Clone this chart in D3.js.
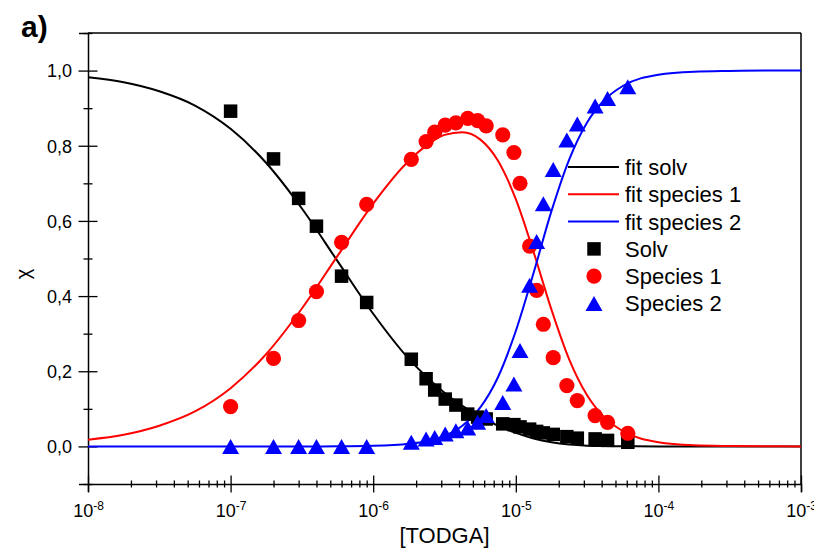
<!DOCTYPE html>
<html>
<head>
<meta charset="utf-8">
<script src="https://cdnjs.cloudflare.com/ajax/libs/d3/7.8.5/d3.min.js"></script>
<style>
    body { margin: 0; background: #fff; }
    svg { display: block; font-family: "Liberation Sans", Arial, sans-serif; }
</style>
</head>
<body>
<svg id="chart" width="814" height="548"></svg>
<script>
// measured points (concentration of TODGA)
var conc = [1e-7, 2e-7, 3e-7, 4e-7, 6e-7, 9e-7, 1.85e-6, 2.35e-6, 2.7e-6, 3.2e-6, 3.8e-6,
    4.6e-6, 5.4e-6, 6.2e-6, 8.1e-6, 9.7e-6, 1.07e-5, 1.25e-5, 1.4e-5, 1.56e-5, 1.83e-5,
    2.28e-5, 2.7e-5, 3.6e-5, 4.4e-5, 6.1e-5];
var solv = [0.892, 0.765, 0.660, 0.586, 0.453, 0.383, 0.232, 0.180, 0.150, 0.126, 0.110,
    0.086, 0.078, 0.073, 0.060, 0.058, 0.052, 0.046, 0.040, 0.036, 0.032,
    0.026, 0.022, 0.020, 0.016, 0.011];
var species1 = [0.106, 0.234, 0.335, 0.412, 0.543, 0.644, 0.764, 0.811, 0.836, 0.855, 0.861,
    0.873, 0.867, 0.853, 0.829, 0.782, 0.700, 0.533, 0.415, 0.325, 0.236,
    0.162, 0.122, 0.082, 0.064, 0.035];
var species2 = [0.0, 0.0, 0.0, 0.0, 0.0, 0.0, 0.011, 0.020, 0.024, 0.033, 0.042,
    0.049, 0.064, 0.082, 0.117, 0.166, 0.255, 0.429, 0.545, 0.646, 0.737,
    0.815, 0.858, 0.906, 0.926, 0.957];

// fit curves (x given as log10 of concentration)
var fitLog = [-8, -7.75, -7.5, -7.25, -7, -6.75, -6.5, -6.25, -6, -5.75, -5.625, -5.5, -5.375,
    -5.25, -5.125, -5, -4.875, -4.75, -4.625, -4.5, -4.375, -4.25, -4, -3.75, -3.5, -3.25, -3];
var fitSolv = [0.982, 0.969, 0.945, 0.907, 0.845, 0.754, 0.633, 0.493, 0.353, 0.233, 0.185, 0.143, 0.108,
    0.079, 0.055, 0.036, 0.021, 0.011, 0.005, 0.002, 0.001, 0.0004, 0, 0, 0, 0, 0];
var fitSpecies1 = [0.018, 0.031, 0.055, 0.093, 0.155, 0.246, 0.367, 0.507, 0.646, 0.760, 0.801, 0.829, 0.836,
    0.817, 0.760, 0.658, 0.517, 0.364, 0.231, 0.136, 0.076, 0.041, 0.011, 0.003, 0.001, 0.0002, 0.0001];
var fitSpecies2 = [0, 0, 0, 0, 0, 0, 0, 0.0003, 0.0016, 0.007, 0.014, 0.028, 0.055,
    0.103, 0.184, 0.307, 0.462, 0.626, 0.764, 0.862, 0.923, 0.959, 0.989, 0.997, 0.999, 1.0, 1.0];

var xTicks = [1e-8, 1e-7, 1e-6, 1e-5, 1e-4, 1e-3];
var yTicks = [0, 0.2, 0.4, 0.6, 0.8, 1.0];

var legendItems = [
    {label: "fit solv", color: "#000", kind: "line"},
    {label: "fit species 1", color: "#ff0000", kind: "line"},
    {label: "fit species 2", color: "#0000ff", kind: "line"},
    {label: "Solv", color: "#000", kind: "square"},
    {label: "Species 1", color: "#ff0000", kind: "circle"},
    {label: "Species 2", color: "#0000ff", kind: "triangle"}
];

var svg = d3.select("#chart");

var plotLeft = 88, plotRight = 801, plotTop = 33, plotBottom = 484;

var x = d3.scaleLog().domain([1e-8, 1e-3]).range([plotLeft, plotRight]);
var y = d3.scaleLinear().domain([-0.1, 1.1]).range([plotBottom, plotTop]);

/**
 * Marker shapes
 */
function markerPath(kind) {
    if (kind === "square") {
        return "M-6.75,-6.75h13.5v13.5h-13.5Z";
    }
    if (kind === "triangle") {
        return "M0,-7.5L8.5,7.5L-8.5,7.5Z";
    }
    return d3.symbol().type(d3.symbolCircle).size(Math.PI * 7.6 * 7.6)();
}

// frame (top and right)
svg.append("line").attr("x1", plotLeft).attr("x2", plotRight).attr("y1", plotTop).attr("y2", plotTop)
    .attr("stroke", "#000").attr("stroke-width", 1.5);
svg.append("line").attr("x1", plotRight).attr("x2", plotRight).attr("y1", plotTop).attr("y2", plotBottom)
    .attr("stroke", "#000").attr("stroke-width", 1.5);

// x axis: majors with labels, minors crossing the line
var minorX = [];
for (var e = -8; e < -3; e++) {
    for (var m = 2; m <= 9; m++) minorX.push(m * Math.pow(10, e));
}

var xAxisG = svg.append("g").attr("transform", "translate(0," + plotBottom + ")");
xAxisG.append("g")
    .call(d3.axisBottom(x).tickValues(minorX).tickSize(4).tickFormat(""))
    .call(function (g) {
        g.select(".domain").remove();
        g.selectAll(".tick line").attr("y1", -3.5).attr("y2", 3.5).attr("stroke-width", 1.3);
    });
xAxisG.append("g")
    .call(d3.axisBottom(x).tickValues(xTicks).tickSize(8).tickFormat(""))
    .call(function (g) {
        g.select(".domain").attr("stroke-width", 1.5);
        g.selectAll(".tick line").attr("y1", -8.5).attr("y2", 8.5).attr("stroke-width", 1.3);
        g.selectAll(".tick").append("text")
            .attr("y", 33)
            .attr("fill", "#000")
            .attr("text-anchor", "middle")
            .style("font-size", "18px")
            .style("font-family", "'Liberation Sans', Arial, sans-serif")
            .each(function (d) {
                var t = d3.select(this);
                t.append("tspan").text("10");
                t.append("tspan").attr("dy", -7).style("font-size", "12px")
                    .text("-" + Math.round(-Math.log10(d)));
            });
    });

// y axis
var minorY = d3.range(-1, 12, 2).map(function (i) { return i / 10; });
var yAxisG = svg.append("g").attr("transform", "translate(" + plotLeft + ",0)");
yAxisG.append("g")
    .call(d3.axisLeft(y).tickValues(minorY).tickSize(4).tickFormat(""))
    .call(function (g) {
        g.select(".domain").remove();
        g.selectAll(".tick line").attr("x1", -4.5).attr("x2", 4.5).attr("stroke-width", 1.3);
    });
yAxisG.append("g")
    .call(d3.axisLeft(y).tickValues(yTicks).tickSize(9)
        .tickFormat(function (d) { return d3.format(".1f")(d).replace(".", ","); }))
    .call(function (g) {
        g.select(".domain").attr("stroke-width", 1.5);
        g.selectAll(".tick line").attr("x1", -9.5).attr("x2", 9.5).attr("stroke-width", 1.3);
        g.selectAll(".tick text")
            .attr("x", -16)
            .attr("dy", "0.35em")
            .attr("fill", "#000")
            .style("font-size", "18px")
            .style("font-family", "'Liberation Sans', Arial, sans-serif");
    });

// axis titles
svg.append("text")
    .attr("x", (plotLeft + plotRight) / 2)
    .attr("y", 543)
    .attr("text-anchor", "middle")
    .style("font-size", "22px")
    .text("[TODGA]");

svg.append("text")
    .attr("transform", "translate(30,274) rotate(-90)")
    .attr("text-anchor", "middle")
    .style("font-size", "20px")
    .text("χ");

svg.append("text")
    .attr("x", 21)
    .attr("y", 37)
    .style("font-size", "30px")
    .style("font-weight", "bold")
    .text("a)");

// fit lines
var line = d3.line()
    .x(function (d) { return x(Math.pow(10, d[0])); })
    .y(function (d) { return y(d[1]); })
    .curve(d3.curveMonotoneX);

var fits = [
    {values: fitSolv, color: "#000"},
    {values: fitSpecies1, color: "#ff0000"},
    {values: fitSpecies2, color: "#0000ff"}
];

svg.append("g").attr("class", "fits")
    .selectAll("path")
    .data(fits)
    .enter()
    .append("path")
    .attr("fill", "none")
    .attr("stroke", function (d) { return d.color; })
    .attr("stroke-width", 2)
    .attr("d", function (d) {
        return line(fitLog.map(function (v, i) { return [v, d.values[i]]; }));
    });

// measured markers
var series = [
    {values: solv, color: "#000", kind: "square"},
    {values: species1, color: "#ff0000", kind: "circle"},
    {values: species2, color: "#0000ff", kind: "triangle"}
];

series.forEach(function (s) {
    svg.append("g")
        .selectAll("path")
        .data(conc.map(function (c, i) { return [c, s.values[i]]; }))
        .enter()
        .append("path")
        .attr("transform", function (d) { return "translate(" + x(d[0]) + "," + y(d[1]) + ")"; })
        .attr("d", markerPath(s.kind))
        .attr("fill", s.color);
});

// legend
var legend = svg.append("g").attr("class", "legend");
var rows = legend.selectAll("g")
    .data(legendItems)
    .enter()
    .append("g")
    .attr("transform", function (d, i) { return "translate(0," + (167 + i * 27.3) + ")"; });

rows.filter(function (d) { return d.kind === "line"; })
    .append("line")
    .attr("x1", 568).attr("x2", 619)
    .attr("stroke", function (d) { return d.color; })
    .attr("stroke-width", 2);

rows.filter(function (d) { return d.kind !== "line"; })
    .append("path")
    .attr("transform", "translate(594,0)")
    .attr("d", function (d) { return markerPath(d.kind); })
    .attr("fill", function (d) { return d.color; });

rows.append("text")
    .attr("x", 625)
    .attr("dy", "0.36em")
    .style("font-size", "22px")
    .text(function (d) { return d.label; });
</script>
</body>
</html>
